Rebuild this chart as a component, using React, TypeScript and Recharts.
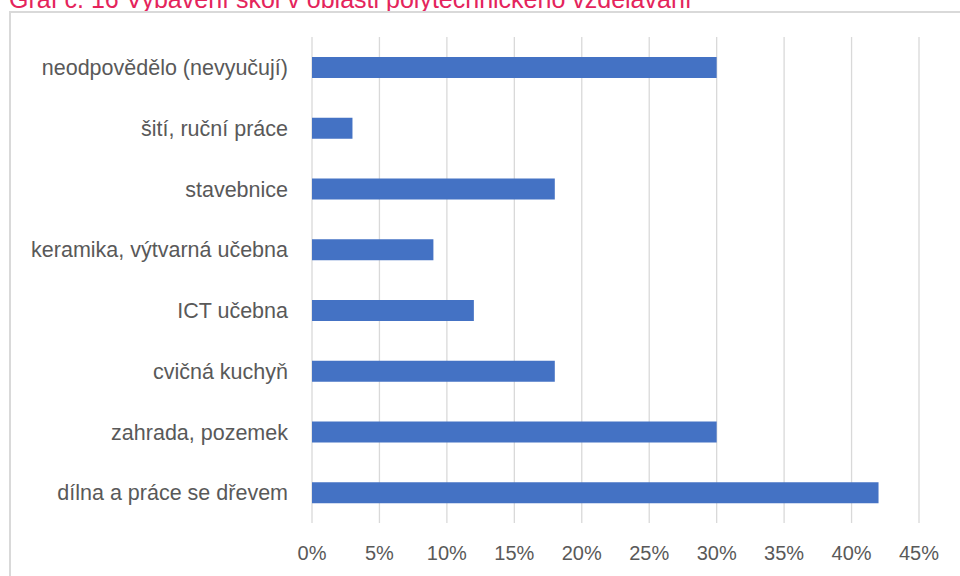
import React from 'react';
import { BarChart, Bar, XAxis, YAxis, CartesianGrid } from 'recharts';

const categories = [
  'neodpovědělo (nevyučují)',
  'šití, ruční práce',
  'stavebnice',
  'keramika, výtvarná učebna',
  'ICT učebna',
  'cvičná kuchyň',
  'zahrada, pozemek',
  'dílna a práce se dřevem',
];
const shares = [30, 3, 18, 9, 12, 18, 30, 42];
const xTicks = [0, 5, 10, 15, 20, 25, 30, 35, 40, 45];

const data = categories.map((name, i) => ({ name, value: shares[i] }));

const font = '"Liberation Sans", Arial, sans-serif';

export default function App() {
  return (
    <div style={{ position: 'fixed', left: 0, top: 0, width: 960, height: 576, background: '#fff', overflow: 'hidden', fontFamily: font }}>
      <div style={{ position: 'absolute', left: 9, top: -13, fontSize: 25, lineHeight: '25px', color: '#e4245c', whiteSpace: 'nowrap' }}>
        Graf č. 16 Vybavení škol v oblasti polytechnického vzdělávání
      </div>
      <div style={{ position: 'absolute', left: 9, top: 11, width: 980, height: 600, border: '2px solid #d9d9d9', boxSizing: 'border-box' }} />
      <div style={{ position: 'absolute', left: 0, top: 0 }}>
        <BarChart
          width={960}
          height={576}
          data={data}
          layout="vertical"
          margin={{ top: 37, right: 41, bottom: 0, left: 0 }}
        >
          <CartesianGrid horizontal={false} stroke="#d9d9d9" strokeWidth={1.3} />
          <XAxis
            type="number"
            domain={[0, 45]}
            ticks={xTicks}
            tickFormatter={(v: number) => `${v}%`}
            axisLine={false}
            tickLine={false}
            tickSize={0}
            tickMargin={23}
            tick={{ fill: '#595959', fontSize: 20, fontFamily: font }}
            height={53}
          />
          <YAxis
            type="category"
            dataKey="name"
            width={312}
            axisLine={false}
            tickLine={false}
            tickSize={0}
            tickMargin={24}
            interval={0}
            tick={{ fill: '#595959', fontSize: 21.5, fontFamily: font }}
          />
          <Bar dataKey="value" fill="#4472c4" barSize={21} isAnimationActive={false} />
        </BarChart>
      </div>
    </div>
  );
}
